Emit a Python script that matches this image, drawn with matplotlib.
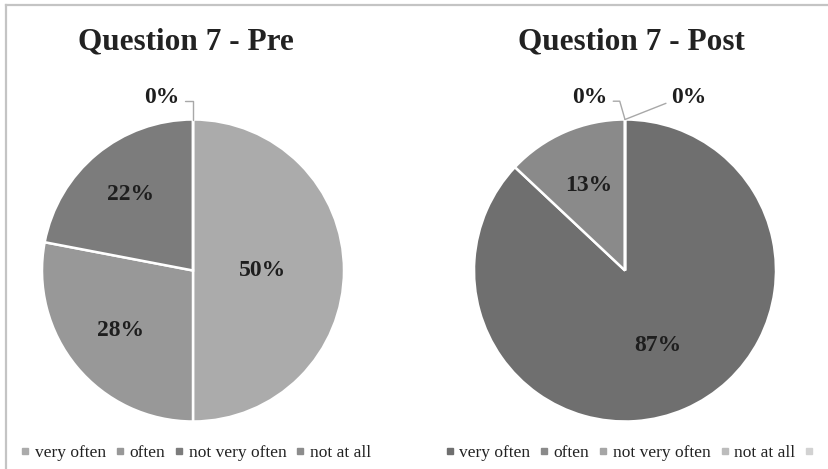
import matplotlib
matplotlib.use('Agg')
import matplotlib.pyplot as plt
import numpy as np
from matplotlib.lines import Line2D

# ---------------- data ----------------
categories = ['very often', 'often', 'not very often', 'not at all']
pre_values = [50, 28, 22, 0]
post_values = [87, 13, 0, 0]
titles = ['Question 7 - Pre', 'Question 7 - Post']

# ---------------- style / layout ----------------
pre_colors = ['#ababab', '#989898', '#7c7c7c', '#8c8c8c']
post_colors = ['#6f6f6f', '#8a8a8a', '#a6a6a6', '#bcbcbc']
extra_marker_color = '#d2d2d2'
W, H = 829, 469
SERIF = ['Liberation Serif', 'DejaVu Serif']

fig = plt.figure(figsize=(W / 100, H / 100), dpi=100)
ax = fig.add_axes([0, 0, 1, 1])
ax.set_xlim(0, W)
ax.set_ylim(0, H)
ax.set_aspect('equal')
ax.axis('off')

# frame (scan border): left and top edges only
fig.add_artist(Line2D([6 / W, 6 / W], [0, 1 - 5 / H], transform=fig.transFigure,
                      color='#c4c4c4', linewidth=1.6))
fig.add_artist(Line2D([6 / W, 1], [1 - 5 / H, 1 - 5 / H], transform=fig.transFigure,
                      color='#c4c4c4', linewidth=1.6))

def Y(y):
    return H - y

panels = [
    dict(values=pre_values, colors=pre_colors, title=titles[0], cx=193, cy=270.5, r=151,
         tx=186, dist=[0.46, 0.62, 0.65],
         zero_text=[None, None, None, (162, 97)],
         zero_style=[None, None, None, 'elbow']),
    dict(values=post_values, colors=post_colors, title=titles[1], cx=625, cy=270.5, r=151,
         tx=631, dist=[0.54, 0.61],
         zero_text=[None, None, (590, 97), (689, 97)],
         zero_style=[None, None, 'left', 'right']),
]

for p in panels:
    wedges, _ = ax.pie(p['values'], colors=p['colors'], startangle=90, counterclock=False,
                       center=(p['cx'], Y(p['cy'])), radius=p['r'],
                       wedgeprops=dict(edgecolor='white', linewidth=1.8), frame=True)
    ax.text(p['tx'], Y(42), p['title'], ha='center', va='center', fontsize=22.5,
            fontweight='bold', family=SERIF, color='#222222')
    k = 0
    for i, (w, v) in enumerate(zip(wedges, p['values'])):
        ang = np.deg2rad((w.theta1 + w.theta2) / 2)
        lab = f'{v:.0f}%'
        if v > 0:
            f = p['dist'][k]
            k += 1
            ax.text(p['cx'] + f * p['r'] * np.cos(ang), Y(p['cy']) + f * p['r'] * np.sin(ang),
                    lab, ha='center', va='center', fontsize=17, fontweight='bold',
                    family=SERIF, color='#1e1e1e')
        else:
            tx, ty = p['zero_text'][i]
            xy = (p['cx'] + p['r'] * np.cos(ang), Y(p['cy']) + p['r'] * np.sin(ang))
            style = p['zero_style'][i]
            if style == 'elbow':
                cs, rp = 'angle,angleA=0,angleB=90,rad=0', (1.0, 0.3)
            elif style == 'left':
                cs, rp = 'angle,angleA=0,angleB=106,rad=0', (1.0, 0.3)
            else:
                cs, rp = 'arc3,rad=0', (0.0, 0.3)
            ax.annotate(lab, xy=xy, xytext=(tx, Y(ty)), ha='center', va='center',
                        fontsize=17, fontweight='bold', family=SERIF, color='#1e1e1e',
                        arrowprops=dict(arrowstyle='-', color='#a8a8a8', lw=1.0,
                                        shrinkA=2, shrinkB=0, connectionstyle=cs, relpos=rp))

ax.set_xlim(0, W)
ax.set_ylim(0, H)
ax.axis('off')

def handles(colors):
    return [Line2D([], [], linestyle='none', marker='s', markersize=4.5,
                   markerfacecolor=c, markeredgecolor=c) for c in colors]

leg_kw = dict(loc='center', ncol=5, frameon=False, handlelength=0.5, handletextpad=0.3,
              columnspacing=0.55, prop=dict(family=SERIF, size=12.5))
l1 = fig.legend(handles(pre_colors), categories, bbox_to_anchor=(196 / W, 1 - 453 / H), **leg_kw)
l2 = fig.legend(handles(post_colors + [extra_marker_color]), categories + [''],
                bbox_to_anchor=(632 / W, 1 - 453 / H), **leg_kw)
for leg in (l1, l2):
    for t in leg.get_texts():
        t.set_color('#222222')

fig.savefig('out.png', dpi=100)
